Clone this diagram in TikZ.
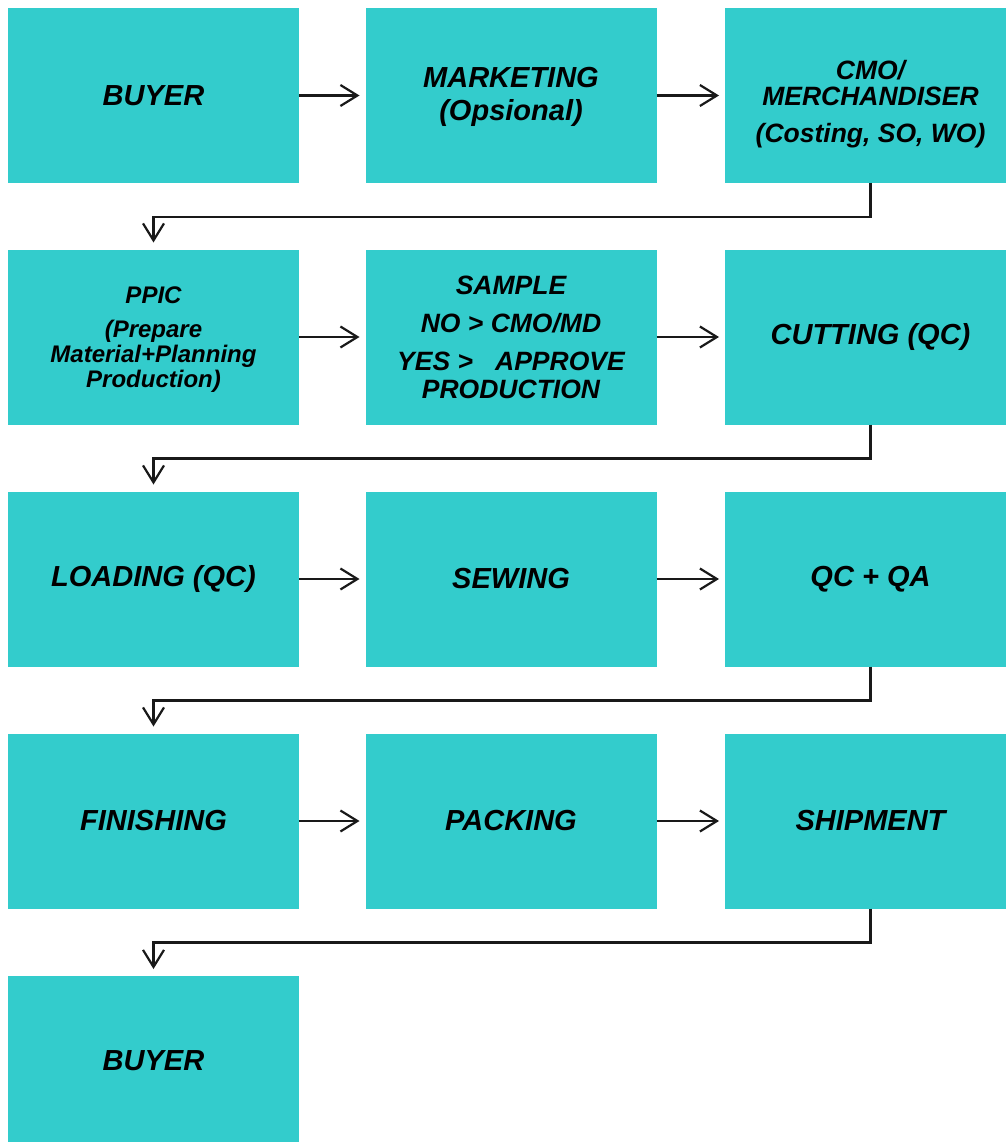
\documentclass[tikz,border=0pt]{standalone}
\usepackage{fontspec}
\setmainfont{Liberation Sans}
\usetikzlibrary{arrows.meta}
\definecolor{teal}{HTML}{33CCCC}
\tikzset{
  box/.style={fill=teal, draw=none, minimum width=291pt, minimum height=175pt, inner sep=0pt, outer sep=0pt},
  lbl/.style={font=\bfseries\itshape\fontsize{29}{34}\selectfont, align=center, inner sep=0pt},
  lblm/.style={font=\bfseries\itshape\fontsize{26.5}{26}\selectfont, align=center, inner sep=0pt},
  lbls/.style={font=\bfseries\itshape\fontsize{24}{25}\selectfont, align=center, inner sep=0pt},
  arr/.style={draw=black!90, line width=2.2pt, -{Straight Barb[length=17pt,width=21pt,line width=2.2pt]}},
}
\begin{document}
\begin{tikzpicture}[x=1pt,y=-1pt]
\useasboundingbox (0,0) rectangle (1006,1142);
% row 1
\node[box] (b1) at (153.5,95.5) {};
\node[box] (b2) at (511,95.5) {};
\node[box, minimum width=281pt] (b3) at (865.5,95.5) {};
\node[lbl] (t1) at (153.5,95.5) {BUYER};
\node[lbl] (t2) at (511,96.5) {MARKETING\\[-1pt](Opsional)};
\node[lblm] (t3) at (870.5,104) {CMO/\\MERCHANDISER\\[11pt](Costing, SO, WO)};
% row 2
\node[box] (b4) at (153.5,337) {};
\node[box] (b5) at (511,337) {};
\node[box, minimum width=281pt] (b6) at (865.5,337) {};
\node[lbls] (t4) at (153.5,339.5) {PPIC\\[9pt](Prepare\\Material+Planning\\Production)};
\node[lblm] (t5) at (511,337) {SAMPLE\\[12pt]NO > CMO/MD\\[12pt]YES >\ \ \ APPROVE\\[2pt]PRODUCTION};
\node[lbl] (t6) at (870.5,337) {CUTTING (QC)};
% row 3
\node[box] (b7) at (153.5,579) {};
\node[box] (b8) at (511,579) {};
\node[box, minimum width=281pt] (b9) at (865.5,579) {};
\node[lbl] (t7) at (153.5,579) {LOADING (QC)};
\node[lbl] (t8) at (511,579) {SEWING};
\node[lbl] (t9) at (870.5,579) {QC + QA};
% row 4
\node[box] (b10) at (153.5,821) {};
\node[box] (b11) at (511,821) {};
\node[box, minimum width=281pt] (b12) at (865.5,821) {};
\node[lbl] (t10) at (153.5,821) {FINISHING};
\node[lbl] (t11) at (511,821) {PACKING};
\node[lbl] (t12) at (870.5,821) {SHIPMENT};
% row 5
\node[box, minimum height=166pt] (b13) at (153.5,1059) {};
\node[lbl] (t13) at (153.5,1061) {BUYER};
% horizontal arrows
\foreach \a/\b in {b1/b2,b2/b3,b4/b5,b5/b6,b7/b8,b8/b9,b10/b11,b11/b12}
  \draw[arr, shorten >=6pt] (\a.east) -- (\b.west);
% elbow arrows
\foreach \a/\b/\t in {b3/b4/t3,b6/b7/t6,b9/b10/t9,b12/b13/t12}
  \draw[arr, shorten >=7pt] (\t |- \a.south) -- ++(0,34) -| (\b.north);
\end{tikzpicture}
\end{document}
